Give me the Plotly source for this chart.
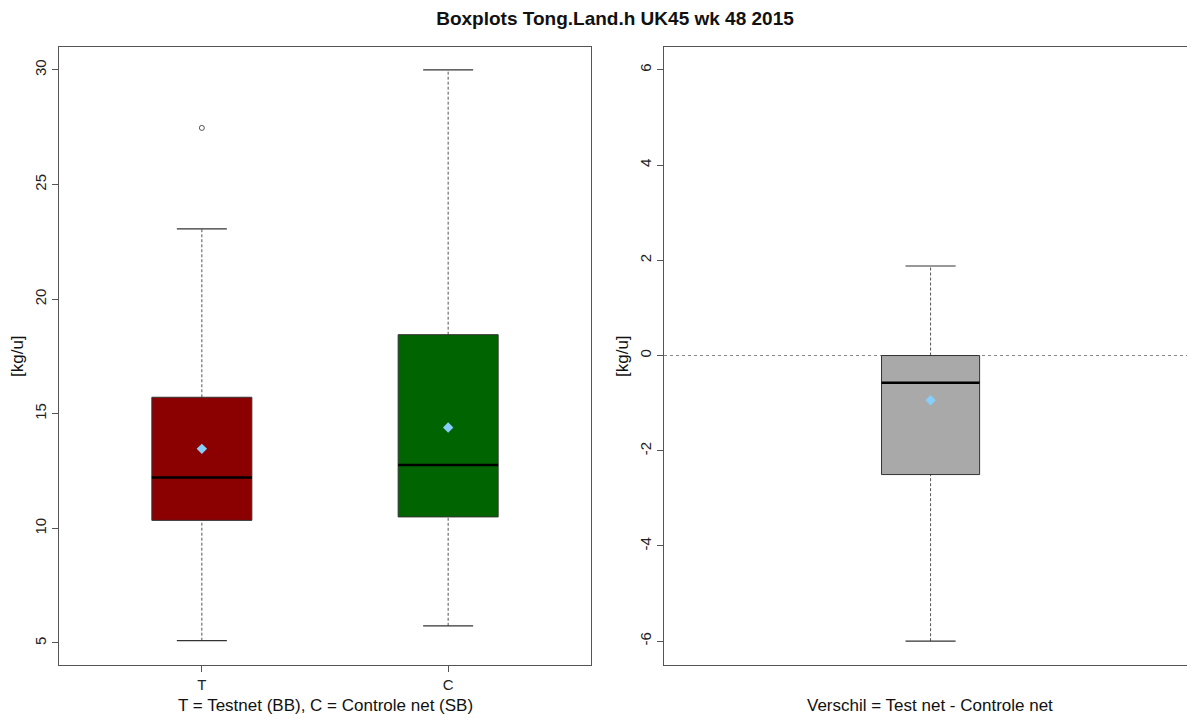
import plotly.graph_objects as go

# ---------------- data ----------------
groups = ["T", "C"]
group_pos = [1, 2]
lower_whisker = [5.1, 5.75]
q1 = [10.35, 10.5]
median = [12.22, 12.77]
q3 = [15.72, 18.45]
upper_whisker = [23.07, 30.0]
means = [13.47, 14.4]
outlier_group = [1]
outlier_values = [27.47]
box_colors = ["#8B0000", "#006400"]

diff_label = ["Verschil"]
diff_pos = [1]
diff_lower_whisker = [-6.0]
diff_q1 = [-2.5]
diff_median = [-0.57]
diff_q3 = [0.0]
diff_upper_whisker = [1.88]
diff_mean = [-0.94]
diff_color = ["#A9A9A9"]

left_ticks = [5, 10, 15, 20, 25, 30]
right_ticks = [-6, -4, -2, 0, 2, 4, 6]
right_ticktext = ["-6", "-4", "-2", "0", "2", "4", "6"]

title = "Boxplots Tong.Land.h UK45 wk 48 2015"
xtitle_left = "T = Testnet (BB), C = Controle net (SB)"
xtitle_right = "Verschil = Test net - Controle net"
ytitle = "[kg/u]"

FONT = "Liberation Sans, Arial, sans-serif"
OFF = 8  # default page body margin
W, H = 1195 - OFF, 720 - OFF

fig = go.Figure()


def add_boxes(pos, lw, b1, med, b3, uw, mn, colors, bw, cw, xa, ya):
    for i, c in enumerate(pos):
        h = bw / 2
        fig.add_trace(go.Scatter(
            x=[c, c, None, c, c], y=[lw[i], b1[i], None, b3[i], uw[i]],
            mode="lines", line=dict(color="#555555", width=1, dash="3px,2px"),
            xaxis=xa, yaxis=ya, showlegend=False, hoverinfo="skip"))
        fig.add_trace(go.Scatter(
            x=[c - cw / 2, c + cw / 2, None, c - cw / 2, c + cw / 2],
            y=[lw[i], lw[i], None, uw[i], uw[i]],
            mode="lines", line=dict(color="#333333", width=1.2),
            xaxis=xa, yaxis=ya, showlegend=False, hoverinfo="skip"))
        fig.add_trace(go.Scatter(
            x=[c - h, c + h, c + h, c - h, c - h],
            y=[b1[i], b1[i], b3[i], b3[i], b1[i]],
            mode="lines", fill="toself", fillcolor=colors[i],
            line=dict(color="#333333", width=1),
            xaxis=xa, yaxis=ya, showlegend=False, hoverinfo="skip"))
        fig.add_trace(go.Scatter(
            x=[c - h, c + h], y=[med[i], med[i]],
            mode="lines", line=dict(color="#000000", width=2.5),
            xaxis=xa, yaxis=ya, showlegend=False, hoverinfo="skip"))
    fig.add_trace(go.Scatter(
        x=pos, y=mn, mode="markers",
        marker=dict(symbol="diamond", size=8, color="#87CEFA"),
        xaxis=xa, yaxis=ya, showlegend=False, hoverinfo="skip"))


add_boxes(group_pos, lower_whisker, q1, median, q3, upper_whisker, means,
          box_colors, 0.406, 0.203, "x", "y")
fig.add_trace(go.Scatter(
    x=outlier_group, y=outlier_values, mode="markers",
    marker=dict(symbol="circle-open", size=5, color="#555555", line=dict(width=1)),
    xaxis="x", yaxis="y", showlegend=False, hoverinfo="skip"))

add_boxes(diff_pos, diff_lower_whisker, diff_q1, diff_median, diff_q3,
          diff_upper_whisker, diff_mean, diff_color, 0.184, 0.094, "x2", "y2")

ml, mr, mt, mb = 0, 0, 47 - OFF, 720 - 665
pw = W - ml - mr
d1 = [(59 - OFF) / pw, (591 - OFF) / pw]
d2 = [(664 - OFF) / pw, 1.0]

axis_common = dict(showgrid=False, zeroline=False, showline=True, linecolor="#555555",
                   linewidth=1, ticks="outside", ticklen=6, tickcolor="#555555",
                   tickfont=dict(family=FONT, size=15, color="#222222"))

fig.update_layout(
    width=W, height=H,
    margin=dict(l=ml, r=mr, t=mt, b=mb),
    paper_bgcolor="white", plot_bgcolor="white",
    title=dict(text="<b>" + title + "</b>", x=(615 - OFF) / W, xanchor="center",
               y=1 - (18 - OFF) / H, yanchor="middle", yref="container",
               font=dict(family=FONT, size=19, color="#111111")),
    xaxis=dict(domain=d1, range=[0.42, 2.58], tickvals=group_pos, ticktext=groups,
               mirror=True, **axis_common),
    yaxis=dict(domain=[0, 1], range=[4.04, 31.0], tickvals=left_ticks,
               tickangle=-90, mirror=True, anchor="x", **axis_common),
    xaxis2=dict(domain=d2, range=[0.5, 1.496], tickvals=[], showticklabels=False,
                mirror=True, anchor="y2",
                **{k: v for k, v in axis_common.items() if k not in ("ticks",)}),
    yaxis2=dict(domain=[0, 1], range=[-6.5, 6.48], tickvals=right_ticks,
                ticktext=right_ticktext, tickangle=-90, mirror=False, anchor="x2",
                **axis_common),
    shapes=[dict(type="line", xref="x2 domain", yref="y2", x0=0, x1=1, y0=0, y1=0,
                 line=dict(color="#888888", width=1, dash="dot"), layer="below")],
)

ann_font = dict(family=FONT, size=17, color="#111111")
fig.add_annotation(text=xtitle_left, xref="x domain", yref="paper", x=0.5, y=0,
                   yshift=-40, yanchor="middle", showarrow=False, font=ann_font)
fig.add_annotation(text=xtitle_right, xref="x2 domain", yref="paper", x=0.5, y=0,
                   yshift=-40, yanchor="middle", showarrow=False, font=ann_font)
fig.add_annotation(text=ytitle, xref="paper", yref="paper", x=(17 - OFF) / pw, y=0.5,
                   textangle=-90, xanchor="center", yanchor="middle",
                   showarrow=False, font=ann_font)
fig.add_annotation(text=ytitle, xref="paper", yref="paper", x=(622 - OFF) / pw, y=0.5,
                   textangle=-90, xanchor="center", yanchor="middle",
                   showarrow=False, font=ann_font)

fig.write_html("out.html")
